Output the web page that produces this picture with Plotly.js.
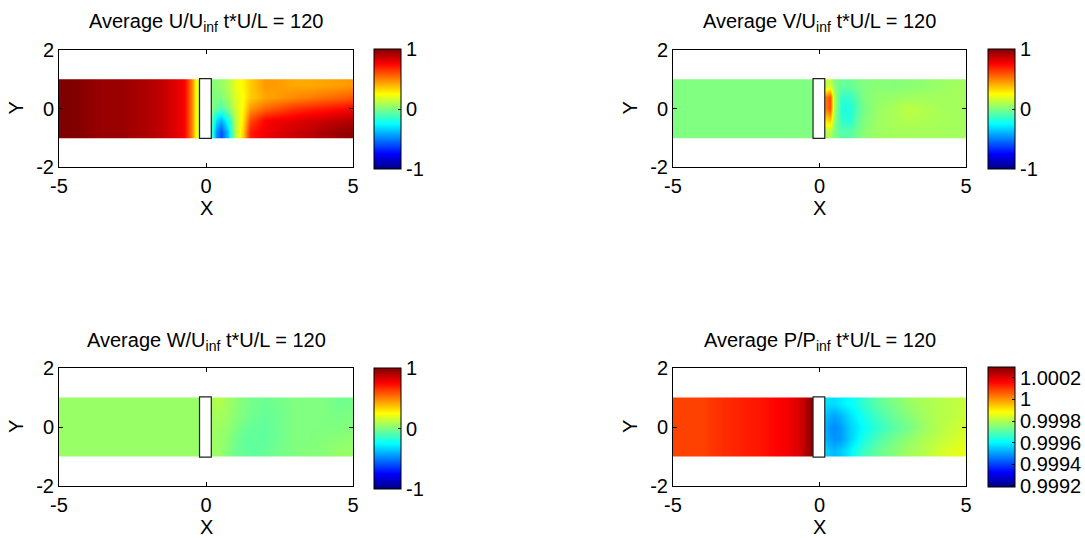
<!DOCTYPE html>
<html>
<head>
<meta charset="utf-8">
<script src="https://cdn.plot.ly/plotly-3.0.1.min.js"></script>
<style>html,body{margin:0;padding:0;background:#fff;}#chart{width:1085px;height:538px;}</style>
</head>
<body>
<div id="chart"></div>
<script>
// ---- grid coordinates (cell centres) ----
const xGrid = [-5,-4.5,-4,-3.5,-3,-2.5,-2,-1.5,-1,-0.75,-0.5,-0.35,-0.2,0.2,0.35,0.5,0.75,1,1.25,1.5,2,2.5,3,3.5,4,4.5,5];
const yGrid = [-0.8,-0.4,0,0.4,0.8];

// ---- field values: rows follow yGrid, columns follow xGrid ----
const uField = [
  [1.0,1.0,0.97,0.95,0.95,0.93,0.91,0.87,0.8,0.76,0.52,0.25,0.05, -0.15,-0.45,-0.6,-0.35,0.1,0.35,0.7,0.78,0.82,0.85,0.88,0.92,0.95,0.97],
  [1.0,1.0,0.97,0.95,0.95,0.93,0.91,0.87,0.8,0.76,0.52,0.25,0.05, -0.1,-0.3,-0.4,-0.2,0.1,0.3,0.6,0.75,0.78,0.8,0.83,0.85,0.88,0.9],
  [1.0,1.0,0.97,0.95,0.95,0.93,0.91,0.87,0.8,0.76,0.52,0.25,0.05, 0.0,-0.05,-0.1,0.0,0.15,0.27,0.45,0.55,0.6,0.65,0.68,0.7,0.72,0.75],
  [1.0,1.0,0.97,0.95,0.95,0.93,0.91,0.87,0.8,0.76,0.52,0.25,0.05, 0.0,0.0,0.0,0.08,0.18,0.25,0.35,0.42,0.45,0.48,0.5,0.53,0.55,0.58],
  [1.0,1.0,0.97,0.95,0.95,0.93,0.91,0.87,0.8,0.76,0.52,0.25,0.05, 0.02,0.02,0.05,0.1,0.2,0.27,0.35,0.45,0.44,0.42,0.42,0.43,0.44,0.45]
];
const vField = [
  [0,0,0,0,0,0,0,0,0,0,0,0,0, 0.08,0.1,0.0,-0.08,-0.08,-0.03,0.02,0.06,0.07,0.07,0.07,0.07,0.07,0.07],
  [0,0,0,0,0,0,0,0,0,0,0,0,0, 0.3,0.35,0.05,-0.15,-0.18,-0.08,0.0,0.06,0.08,0.1,0.09,0.08,0.07,0.07],
  [0,0,0,0,0,0,0,0,0,0,0,0,0, 0.5,0.6,0.1,-0.18,-0.2,-0.1,-0.02,0.05,0.08,0.12,0.1,0.08,0.07,0.07],
  [0,0,0,0,0,0,0,0,0,0,0,0,0, 0.5,0.6,0.1,-0.15,-0.15,-0.08,0.0,0.04,0.05,0.06,0.07,0.07,0.07,0.07],
  [0,0,0,0,0,0,0,0,0,0,0,0,0, 0.1,0.15,0.02,-0.05,-0.05,-0.02,0.0,0.02,0.01,0.02,0.03,0.05,0.06,0.07]
];
const wField = [
  [0.05,0.05,0.05,0.05,0.05,0.05,0.05,0.05,0.05,0.05,0.05,0.05,0.05, 0.05,0.06,0.05,0.0,-0.03,-0.05,-0.06,-0.05,-0.02,0.0,0.01,0.02,0.04,0.05],
  [0.05,0.05,0.05,0.05,0.05,0.05,0.05,0.05,0.05,0.05,0.05,0.05,0.05, 0.05,0.05,0.04,0.02,-0.02,-0.05,-0.06,-0.06,-0.03,0.0,0.0,0.01,0.02,0.03],
  [0.05,0.05,0.05,0.05,0.05,0.05,0.05,0.05,0.05,0.05,0.05,0.05,0.05, 0.05,0.06,0.05,0.04,0.0,-0.03,-0.05,-0.06,-0.03,0.0,0.0,0.0,0.0,0.01],
  [0.05,0.05,0.05,0.05,0.05,0.05,0.05,0.05,0.05,0.05,0.05,0.05,0.05, 0.06,0.08,0.07,0.05,0.02,0.0,-0.03,-0.05,-0.03,0.0,0.0,0.0,-0.01,0.0],
  [0.05,0.05,0.05,0.05,0.05,0.05,0.05,0.05,0.05,0.05,0.05,0.05,0.05, 0.08,0.1,0.09,0.06,0.03,0.0,-0.02,-0.04,-0.02,0.0,0.0,0.0,-0.03,-0.02]
];
const pField = [
  [1.00009,1.00009,1.00009,1.00011,1.00012,1.00013,1.00014,1.00016,1.00018,1.00020,1.00024,1.00027,1.00029, 0.99956,0.99954,0.99953,0.99955,0.99959,0.99963,0.99967,0.99972,0.99975,0.99978,0.99980,0.99983,0.99985,0.99986],
  [1.00009,1.00009,1.00009,1.00011,1.00012,1.00013,1.00014,1.00016,1.00018,1.00020,1.00024,1.00027,1.00029, 0.99953,0.99950,0.99949,0.99950,0.99955,0.99959,0.99963,0.99969,0.99973,0.99976,0.99979,0.99981,0.99983,0.99985],
  [1.00009,1.00009,1.00009,1.00011,1.00012,1.00013,1.00014,1.00016,1.00018,1.00020,1.00024,1.00027,1.00029, 0.99952,0.99949,0.99948,0.99950,0.99955,0.99958,0.99961,0.99966,0.99970,0.99973,0.99977,0.99980,0.99982,0.99984],
  [1.00009,1.00009,1.00009,1.00011,1.00012,1.00013,1.00014,1.00016,1.00018,1.00020,1.00024,1.00027,1.00029, 0.99954,0.99952,0.99951,0.99953,0.99957,0.99960,0.99963,0.99968,0.99972,0.99975,0.99978,0.99980,0.99981,0.99983],
  [1.00009,1.00009,1.00009,1.00011,1.00012,1.00013,1.00014,1.00016,1.00018,1.00020,1.00024,1.00027,1.00029, 0.99958,0.99957,0.99957,0.99959,0.99961,0.99963,0.99966,0.99971,0.99974,0.99977,0.99979,0.99980,0.99981,0.99982]
];

// ---- titles, ticks, ranges ----
const panelTitles = [
  'Average U/U<sub>inf</sub> t*U/L = 120',
  'Average V/U<sub>inf</sub> t*U/L = 120',
  'Average W/U<sub>inf</sub> t*U/L = 120',
  'Average P/P<sub>inf</sub> t*U/L = 120'
];
const xTicks = [-5, 0, 5];
const yTicks = [-2, 0, 2];
const velRange = [-1, 1];
const velTicks = [-1, 0, 1];
const pRange = [0.99919, 1.00030];
const pTicks = [0.9992, 0.9994, 0.9996, 0.9998, 1, 1.0002];
const pTickText = ['0.9992', '0.9994', '0.9996', '0.9998', '1', '1.0002'];
const bodyX = [-0.22, 0.18];
const bodyY = [-1.02, 1.02];

// ---- styling ----
const W = 1085, H = 538;
const FONT = 'Liberation Sans, Arial, Helvetica, sans-serif';
const FS = 20;
const jet = [
  [0, 'rgb(0,0,128)'], [0.125, 'rgb(0,0,255)'], [0.375, 'rgb(0,255,255)'],
  [0.625, 'rgb(255,255,0)'], [0.875, 'rgb(255,0,0)'], [1, 'rgb(128,0,0)']
];
const px = v => v / W;
const py = v => 1 - v / H;

const panels = [
  {z: uField, range: velRange, ticks: velTicks, ticktext: null, ax: [59, 353], ay: [50, 167], cb: [374, 49, 169]},
  {z: vField, range: velRange, ticks: velTicks, ticktext: null, ax: [673, 966], ay: [50, 167], cb: [988, 49, 169]},
  {z: wField, range: velRange, ticks: velTicks, ticktext: null, ax: [59, 353], ay: [368, 486], cb: [374, 368, 489]},
  {z: pField, range: pRange, ticks: pTicks, ticktext: pTickText, ax: [673, 966], ay: [368, 486], cb: [988, 367, 487]}
];

const data = [];
const layout = {
  width: W, height: H,
  margin: {l: 0, r: 0, t: 0, b: 0},
  paper_bgcolor: '#fff', plot_bgcolor: '#fff',
  font: {family: FONT, size: FS, color: '#000'},
  showlegend: false,
  shapes: [], annotations: []
};

panels.forEach((p, i) => {
  const n = i === 0 ? '' : String(i + 1);
  const cbCenter = (p.cb[1] + p.cb[2]) / 2;
  data.push({
    type: 'heatmap',
    x: xGrid, y: yGrid, z: p.z,
    xaxis: 'x' + n, yaxis: 'y' + n,
    colorscale: jet, zmin: p.range[0], zmax: p.range[1],
    zsmooth: 'best', hoverinfo: 'skip',
    colorbar: {
      x: px(p.cb[0]), xanchor: 'left', xref: 'paper',
      y: py(cbCenter), yanchor: 'middle', yref: 'paper',
      len: p.cb[2] - p.cb[1], lenmode: 'pixels',
      thickness: 27, thicknessmode: 'pixels',
      xpad: 0, ypad: 0,
      outlinewidth: 1, outlinecolor: '#000',
      ticks: 'inside', ticklen: 3, tickcolor: '#000',
      tickmode: 'array', tickvals: p.ticks,
      ticktext: p.ticktext || p.ticks.map(String),
      tickfont: {family: FONT, size: FS, color: '#000'},
      ticklabelstandoff: -2
    }
  });
  const axCommon = {
    showgrid: false, zeroline: false, showline: true, mirror: 'ticks',
    linecolor: '#000', linewidth: 1, ticks: 'inside', ticklen: 4, tickcolor: '#000',
    tickfont: {family: FONT, size: FS, color: '#000'}, fixedrange: true
  };
  layout['xaxis' + n] = Object.assign({}, axCommon, {
    domain: [px(p.ax[0]), px(p.ax[1])], range: [-5, 5],
    tickmode: 'array', tickvals: xTicks, ticktext: xTicks.map(String),
    anchor: 'y' + n, ticklabelstandoff: 1
  });
  layout['yaxis' + n] = Object.assign({}, axCommon, {
    domain: [py(p.ay[1]), py(p.ay[0])], range: [-2, 2],
    tickmode: 'array', tickvals: yTicks, ticktext: yTicks.map(String),
    anchor: 'x' + n, ticklabelstandoff: 0
  });
  layout.shapes.push({
    type: 'rect', xref: 'x' + n, yref: 'y' + n,
    x0: bodyX[0], x1: bodyX[1], y0: bodyY[0], y1: bodyY[1],
    fillcolor: '#fff', line: {color: '#222', width: 1.2}, layer: 'above'
  });
  const cx = (p.ax[0] + p.ax[1]) / 2;
  layout.annotations.push({
    text: panelTitles[i], xref: 'paper', yref: 'paper',
    x: px(cx), y: py(p.ay[0] - 27), xanchor: 'center', yanchor: 'middle',
    showarrow: false, font: {family: FONT, size: FS, color: '#000'}
  });
  layout.annotations.push({
    text: 'X', xref: 'paper', yref: 'paper',
    x: px(cx), y: py(p.ay[1] + 41), xanchor: 'center', yanchor: 'middle',
    showarrow: false, font: {family: FONT, size: FS, color: '#000'}
  });
  layout.annotations.push({
    text: 'Y', xref: 'paper', yref: 'paper', textangle: -90,
    x: px(p.ax[0] - 43), y: py((p.ay[0] + p.ay[1]) / 2), xanchor: 'center', yanchor: 'middle',
    showarrow: false, font: {family: FONT, size: FS, color: '#000'}
  });
});

Plotly.newPlot('chart', data, layout, {displayModeBar: false, staticPlot: true});
</script>
</body>
</html>
